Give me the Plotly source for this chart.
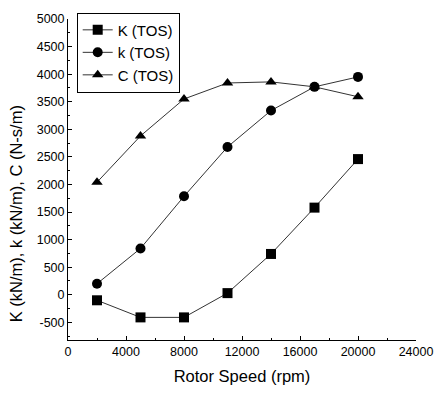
import plotly.graph_objects as go

speed = [2000, 5000, 8000, 11000, 14000, 17000, 20000]
K_tos = [-100, -410, -410, 30, 740, 1580, 2460]
k_tos = [200, 840, 1785, 2680, 3340, 3770, 3950]
C_tos = [2040, 2880, 3550, 3840, 3860, 3770, 3590]

x_ticks = [0, 4000, 8000, 12000, 16000, 20000, 24000]
y_ticks = [-500, 0, 500, 1000, 1500, 2000, 2500, 3000, 3500, 4000, 4500, 5000]

fig = go.Figure()
series = [("K (TOS)", K_tos, "square"), ("k (TOS)", k_tos, "circle"), ("C (TOS)", C_tos, "triangle-up")]
for name, vals, sym in series:
    fig.add_trace(go.Scatter(
        x=speed, y=vals, name=name, mode="lines+markers",
        line=dict(color="#333", width=1),
        marker=dict(symbol=sym, size=10, color="black"),
    ))

fnt = "Liberation Sans, Arial, sans-serif"
fig.update_layout(
    width=445, height=399,
    margin=dict(l=68, r=19, t=14, b=59),
    plot_bgcolor="white", paper_bgcolor="white",
    font=dict(family=fnt, color="black", size=12),
    showlegend=True,
    legend=dict(x=0.025, y=1.02, xanchor="left", yanchor="top",
                bordercolor="black", borderwidth=1, bgcolor="white",
                font=dict(size=15, family=fnt), tracegroupgap=0,
                itemwidth=30),
    xaxis=dict(range=[0, 24000], tickvals=x_ticks, ticktext=[str(v) for v in x_ticks],
               showgrid=False, zeroline=False, showline=True, linecolor="black", linewidth=1,
               ticks="inside", ticklen=4, tickcolor="black",
               minor=dict(ticks="inside", ticklen=2, dtick=2000, tickcolor="black"),
               title=dict(text="Rotor Speed (rpm)", font=dict(size=16.5), standoff=12),
               tickfont=dict(size=12.5)),
    yaxis=dict(range=[-820, 5000], tickvals=y_ticks, ticktext=[str(v) for v in y_ticks],
               showgrid=False, zeroline=False, showline=True, linecolor="black", linewidth=1,
               ticks="inside", ticklen=4, tickcolor="black",
               minor=dict(ticks="inside", ticklen=2, dtick=250, tickcolor="black"),
               tickfont=dict(size=12.5)),
    annotations=[dict(text="K (kN/m), k (kN/m), C (N-s/m)", textangle=-90,
                      xref="paper", yref="paper", x=-0.151, y=0.393,
                      xanchor="center", yanchor="middle", showarrow=False,
                      font=dict(size=16.5, family=fnt))],
)
fig.write_html("out.html")
